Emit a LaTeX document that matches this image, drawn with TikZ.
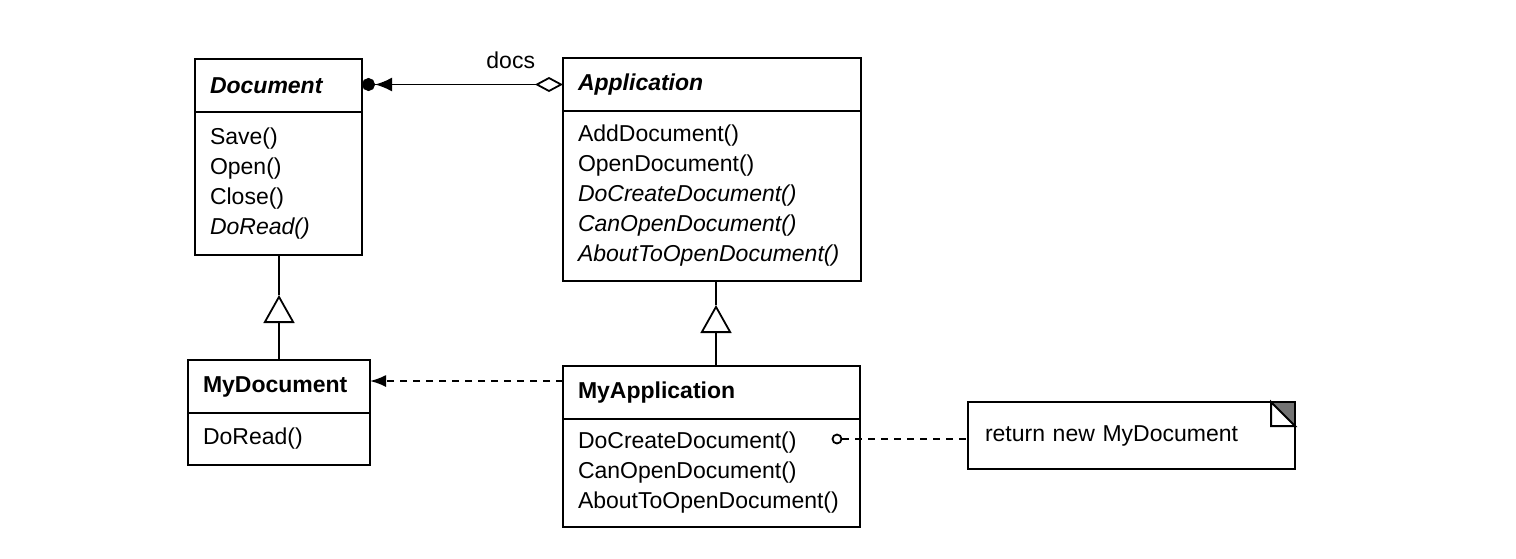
\documentclass[tikz,border=0pt]{standalone}
\usepackage{fontspec}
\setmainfont{Liberation Sans}
\usetikzlibrary{arrows.meta}

\newcommand{\umlsize}{\fontsize{11.5}{15}\selectfont}
\tikzstyle{classhead}=[rectangle,draw=black,line width=1pt,outer sep=0pt,anchor=north west,align=left,inner xsep=7.5pt,minimum height=26.5pt,font=\umlsize\bfseries]
\tikzstyle{classbody}=[rectangle,draw=black,line width=1pt,outer sep=0pt,anchor=north west,align=left,inner xsep=7.5pt,font=\umlsize]
\tikzstyle{notebox}=[rectangle,outer sep=0pt,anchor=north west,align=left,inner xsep=8.5pt,minimum height=33.5pt,font=\umlsize]
\tikzstyle{inherit}=[line width=0.9pt,-{Triangle[open,length=14pt,width=15.5pt]}]
\tikzstyle{depend}=[line width=0.9pt,dash pattern=on 3.5pt off 3pt,-{Latex[length=8pt,width=6pt]}]

\begin{document}
\begin{tikzpicture}[x=0.5pt,y=-0.5pt]
	\useasboundingbox (0,0) rectangle (1516,558);

	% Classes
	\node[classhead,font=\umlsize\bfseries\itshape,text width=68.5pt] (dochead) at (195,59) {Document};
	\node[classbody,text width=68.5pt,minimum height=71.5pt] (docbody) at (dochead.south west) {Save()\\Open()\\Close()\\\textit{DoRead()}};

	\node[classhead,font=\umlsize\bfseries\itshape,text width=134pt] (apphead) at (563,58) {Application};
	\node[classbody,text width=134pt,minimum height=85pt] (appbody) at (apphead.south west) {AddDocument()\\OpenDocument()\\\textit{DoCreateDocument()}\\\textit{CanOpenDocument()}\\\textit{AboutToOpenDocument()}};

	\node[classhead,text width=76pt] (mydochead) at (188,360) {MyDocument};
	\node[classbody,text width=76pt,minimum height=26pt] (mydocbody) at (mydochead.south west) {DoRead()};

	\node[classhead,text width=133.5pt] (myapphead) at (563,366) {MyApplication};
	\node[classbody,text width=133.5pt,minimum height=54pt] (myappbody) at (myapphead.south west) {DoCreateDocument()\\CanOpenDocument()\\AboutToOpenDocument()};

	% Note
	\node[notebox,text width=146.5pt] (note) at (968,402) {return new MyDocument};
	\fill[black!55] ([xshift=-12pt]note.north east) -- (note.north east) -- ([yshift=-12pt]note.north east) -- cycle;
	\draw[line width=1pt] (note.north west) -- (note.north east) -- (note.south east) -- (note.south west) -- cycle;
	\draw[line width=1pt,fill=white] ([xshift=-12pt]note.north east) -- ([yshift=-12pt]note.north east) -- ([shift={(-12pt,-12pt)}]note.north east) -- cycle;

	% Associations
	\draw[line width=0.9pt,{Diamond[open,length=14pt,width=7.5pt]}-{Latex[length=8.5pt,width=7pt]Circle[length=6.5pt]}] (apphead.west) -- (dochead.east |- apphead.west) node[pos=0.26,above=4pt,font=\umlsize] (docs) {docs};

	% Generalisations
	\coordinate (genA) at (279,295);
	\coordinate (genB) at (716,305);
	\draw[line width=0.9pt] (genA) -- (docbody.south -| genA);
	\draw[inherit] (mydochead.north -| genA) -- (genA);
	\draw[line width=0.9pt] (genB) -- (appbody.south -| genB);
	\draw[inherit] (myapphead.north -| genB) -- (genB);

	% Instantiation
	\draw[depend] (myapphead.west |- 0,381) -- (mydochead.east |- 0,381);

	% Note link
	\node[circle,draw,line width=0.9pt,inner sep=0pt,minimum size=4.5pt] (hook) at (837,439) {};
	\draw[line width=0.9pt,dash pattern=on 3.5pt off 3pt] (hook) -- (note.west |- hook);
\end{tikzpicture}
\end{document}
